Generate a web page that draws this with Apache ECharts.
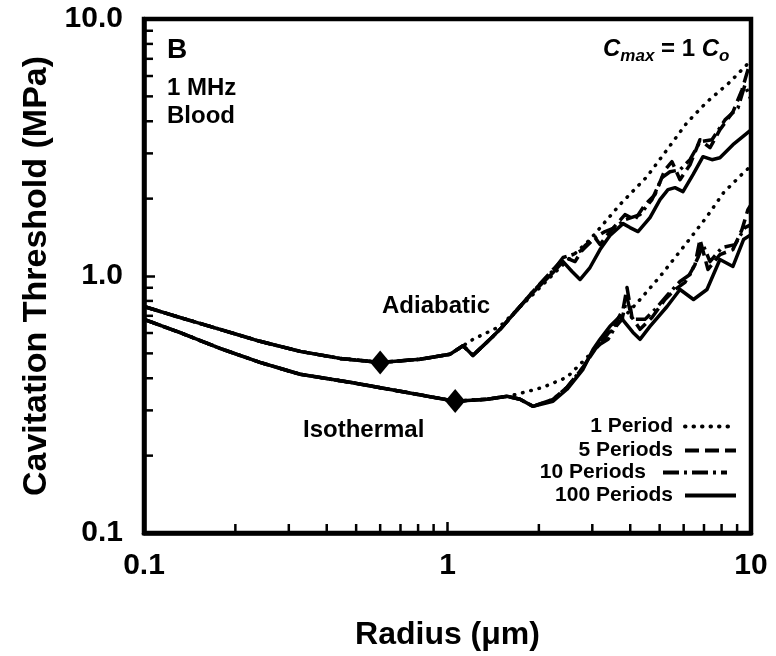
<!DOCTYPE html>
<html><head><meta charset="utf-8">
<script src="https://cdn.jsdelivr.net/npm/echarts@6/dist/echarts.min.js"></script>
<style>html,body{margin:0;padding:0;background:#fff}#c{width:776px;height:656px}</style>
</head><body><div id="c"></div>
<script>
// ---- tick labels / categories ----
const xTickLabels = ['0.1', '1', '10'];
const yTickLabels = ['0.1', '1.0', '10.0'];
const minorTickValues = [0.2,0.3,0.4,0.5,0.6,0.7,0.8,0.9,2,3,4,5,6,7,8,9];
const seriesNames = ['1 Period', '5 Periods', '10 Periods', '100 Periods'];

// ---- Adiabatic (upper) ----
const adiaBaseR = [0.1, 0.131, 0.178, 0.241, 0.327, 0.442, 0.599, 0.812, 1.019, 1.125];
const adiaBaseP = [0.761, 0.690, 0.620, 0.557, 0.509, 0.478, 0.461, 0.474, 0.496, 0.535];
const adia1R = [1.213, 1.49, 1.913, 2.348, 2.948, 3.70, 4.54, 5.29, 6.15, 7.16, 8.53, 10];
const adia1P = [0.567, 0.637, 0.848, 1.079, 1.386, 1.896, 2.434, 3.10, 3.947, 4.76, 5.69, 6.9];
const adia5R = [1.213, 1.38, 1.49, 1.734, 1.913, 2.227, 2.439, 2.631, 2.838, 3.062, 3.181, 3.43, 3.845, 4.148, 4.474, 4.827, 5.207, 5.49, 5.835, 6.295, 6.79, 7.326, 7.9, 8.72, 9.34, 9.77, 10];
const adia5P = [0.491, 0.567, 0.620, 0.761, 0.871, 1.06, 1.18, 1.138, 1.313, 1.411, 1.325, 1.489, 1.733, 1.657, 1.896, 2.073, 2.59, 2.784, 2.37, 2.71, 3.39, 3.155, 3.71, 4.35, 5.30, 6.34, 6.81];
const adia10R = [1.213, 1.38, 1.49, 1.734, 1.913, 2.227, 2.403, 2.591, 2.796, 3.062, 3.304, 3.564, 3.845, 4.308, 4.718, 5.09, 5.409, 5.835, 6.295, 6.79, 7.438, 8.21, 9.06, 9.55, 10];
const adia10P = [0.491, 0.567, 0.620, 0.761, 0.871, 1.05, 1.18, 1.212, 1.267, 1.411, 1.489, 1.543, 1.657, 1.733, 1.982, 2.413, 2.545, 2.59, 2.835, 3.33, 3.39, 4.05, 4.51, 5.54, 4.85];
const adia100R = [1.213, 1.38, 1.49, 1.734, 1.913, 2.227, 2.403, 2.572, 2.733, 2.948, 3.181, 3.43, 3.787, 3.993, 4.244, 4.647, 5.014, 5.327, 5.617, 5.969, 6.44, 6.947, 7.438, 7.9, 8.72, 9.55, 10];
const adia100P = [0.491, 0.567, 0.620, 0.761, 0.863, 1.032, 1.138, 1.041, 0.969, 1.079, 1.267, 1.437, 1.599, 1.543, 1.489, 1.687, 1.982, 2.167, 2.207, 2.129, 2.479, 2.912, 2.835, 2.886, 3.242, 3.544, 3.706];

// ---- Isothermal (lower) ----
const isoBaseR = [0.1, 0.131, 0.178, 0.241, 0.327, 0.477, 0.698, 1.06, 1.349, 1.571];
const isoBaseP = [0.678, 0.603, 0.523, 0.461, 0.4145, 0.386, 0.356, 0.3257, 0.3315, 0.3404];
const iso1R = [1.694, 2.064, 2.476, 2.948, 3.70, 4.31, 5.014, 6.15, 7.16, 8.12, 9.45, 10];
const iso1P = [0.3466, 0.369, 0.4035, 0.4956, 0.666, 0.810, 0.9955, 1.349, 1.703, 2.11, 2.523, 2.68];
const iso5R = [1.734, 1.913, 2.227, 2.476, 2.796, 3.062, 3.304, 3.564, 3.787, 3.904, 4.055, 4.308, 4.718, 5.207, 5.617, 6.06, 6.54, 6.79, 7.216, 7.9, 8.72, 9.34, 9.77, 10];
const iso5P = [0.3315, 0.311, 0.331, 0.369, 0.441, 0.518, 0.577, 0.648, 0.741, 0.902, 0.690, 0.620, 0.690, 0.810, 0.886, 0.944, 1.108, 1.386, 1.06, 1.212, 1.267, 1.516, 1.813, 1.896];
const iso10R = [1.734, 1.913, 2.227, 2.476, 2.796, 3.016, 3.181, 3.38, 3.564, 3.758, 3.904, 4.055, 4.474, 4.827, 5.327, 5.835, 6.295, 6.69, 6.947, 7.326, 8.02, 8.86, 9.55, 10];
const iso10P = [0.3315, 0.311, 0.331, 0.369, 0.441, 0.509, 0.542, 0.567, 0.631, 0.678, 0.825, 0.678, 0.678, 0.741, 0.848, 0.952, 1.013, 1.18, 1.325, 1.138, 1.29, 1.325, 1.543, 1.585];
const iso100R = [1.734, 1.913, 2.227, 2.476, 2.796, 3.016, 3.181, 3.43, 3.70, 4.085, 4.308, 4.647, 5.29, 5.835, 6.465, 7.16, 7.9, 8.72, 9.45, 10];
const iso100P = [0.3315, 0.311, 0.3257, 0.3624, 0.4334, 0.518, 0.567, 0.637, 0.696, 0.603, 0.567, 0.637, 0.761, 0.886, 0.810, 0.886, 1.159, 1.089, 1.386, 1.449];

// ---- minimum markers ----
const markerR = [0.60, 1.06];
const markerP = [0.461, 0.326];

const FONT = "'Liberation Sans', Arial, Helvetica, sans-serif";
const zip = (a, b) => a.map((v, i) => [v, b[i]]);
const styles = {
  '1 Period': { type: [0.5, 8], cap: 'round', width: 3.5 },
  '5 Periods': { type: [14, 6], width: 3.5 },
  '10 Periods': { type: [16, 5, 3, 5], width: 3.5 },
  '100 Periods': { type: 'solid', width: 3.5 }
};
function line(name, bR, bP, r, p) {
  return {
    type: 'line', name, symbol: 'none', showSymbol: false, silent: true,
    data: zip(bR, bP).concat(zip(r, p)),
    lineStyle: Object.assign({ color: '#000', join: 'round' }, styles[name]),
    itemStyle: { color: '#000' }, z: 3
  };
}
const series = [
  line('1 Period', adiaBaseR, adiaBaseP, adia1R, adia1P),
  line('1 Period', isoBaseR, isoBaseP, iso1R, iso1P),
  line('5 Periods', adiaBaseR, adiaBaseP, adia5R, adia5P),
  line('5 Periods', isoBaseR, isoBaseP, iso5R, iso5P),
  line('10 Periods', adiaBaseR, adiaBaseP, adia10R, adia10P),
  line('10 Periods', isoBaseR, isoBaseP, iso10R, iso10P),
  line('100 Periods', adiaBaseR, adiaBaseP, adia100R, adia100P),
  line('100 Periods', isoBaseR, isoBaseP, iso100R, iso100P),
  { type: 'scatter', name: 'min', symbol: 'diamond', symbolSize: [20, 24], silent: true,
    data: zip(markerR, markerP), itemStyle: { color: '#000', opacity: 1 }, z: 5 },
  { type: 'scatter', name: 'xminor', symbol: 'rect', symbolSize: [2.5, 7], symbolOffset: [0, -5.5],
    silent: true, clip: false, data: minorTickValues.map(v => [v, 0.1]), itemStyle: { color: '#000', opacity: 1 }, z: 6 },
  { type: 'scatter', name: 'yminor', symbol: 'rect', symbolSize: [7, 2.5], symbolOffset: [5.5, 0],
    silent: true, clip: false, data: minorTickValues.map(v => [0.1, v]), itemStyle: { color: '#000', opacity: 1 }, z: 6 }
];

const legendRight = [38, 38, 47, 38];
const legendCenter = [428, 452, 474, 497];
const legendIconW = [51, 51, 64, 51];
const legendPad = [7, 7, 12, 7];

const chart = echarts.init(document.getElementById('c'), null, { renderer: 'canvas' });
chart.setOption({
  animation: false,
  backgroundColor: '#fff',
  grid: { left: 144, right: 25, top: 19, bottom: 122, show: true, borderColor: '#000', borderWidth: 4.5, backgroundColor: 'transparent' },
  xAxis: {
    type: 'log', logBase: 10, min: 0.1, max: 10,
    name: 'Radius (\u03bcm)', nameLocation: 'middle', nameGap: 86,
    nameTextStyle: { fontFamily: FONT, fontWeight: 'bold', fontSize: 32, color: '#000' },
    axisLine: { lineStyle: { color: '#000', width: 4.5 } },
    axisTick: { inside: true, length: 11, lineStyle: { color: '#000', width: 2.5 } },
    axisLabel: { margin: 18, fontFamily: FONT, fontWeight: 'bold', fontSize: 30, color: '#000',
      formatter: v => xTickLabels[Math.round(Math.log10(v)) + 1] },
    splitLine: { show: false }
  },
  yAxis: {
    type: 'log', logBase: 10, min: 0.1, max: 10,
    name: 'Cavitation Threshold (MPa)', nameLocation: 'middle', nameGap: 82,
    nameTextStyle: { fontFamily: FONT, fontWeight: 'bold', fontSize: 34, color: '#000' },
    axisLine: { lineStyle: { color: '#000', width: 4.5 } },
    axisTick: { inside: true, length: 11, lineStyle: { color: '#000', width: 2.5 } },
    axisLabel: { margin: 21, fontFamily: FONT, fontWeight: 'bold', fontSize: 30, color: '#000',
      formatter: v => yTickLabels[Math.round(Math.log10(v)) + 1] },
    splitLine: { show: false }
  },
  legend: seriesNames.map((n, i) => ({
    data: [n], orient: 'horizontal', align: 'right', selectedMode: false,
    right: legendRight[i], top: legendCenter[i] - 12,
    itemWidth: legendIconW[i], itemHeight: 14, padding: 0,
    itemStyle: { opacity: 0 },
    lineStyle: { width: 4 },
    textStyle: { fontFamily: FONT, fontWeight: 'bold', fontSize: 21, color: '#000', padding: [0, legendPad[i], 0, 0] }
  })),
  graphic: [
    { type: 'text', left: 167, top: 36, style: { text: 'B', font: 'bold 28px ' + FONT, fill: '#000' } },
    { type: 'text', left: 167, top: 76, style: { text: '1 MHz', font: 'bold 24px ' + FONT, fill: '#000' } },
    { type: 'text', left: 167, top: 104, style: { text: 'Blood', font: 'bold 24px ' + FONT, fill: '#000' } },
    { type: 'text', left: 382, top: 294, style: { text: 'Adiabatic', font: 'bold 24px ' + FONT, fill: '#000' } },
    { type: 'text', left: 303, top: 418, style: { text: 'Isothermal', font: 'bold 24px ' + FONT, fill: '#000' } },
    { type: 'text', left: 603, top: 34, style: {
      text: '{c|C}{s|max}{n| = 1 }{c|C}{s|o}',
      rich: {
        c: { fontFamily: FONT, fontWeight: 'bold', fontStyle: 'italic', fontSize: 24, fill: '#000', lineHeight: 30 },
        s: { fontFamily: FONT, fontWeight: 'bold', fontStyle: 'italic', fontSize: 17, fill: '#000', padding: [14, 0, 0, 0], lineHeight: 30 },
        n: { fontFamily: FONT, fontWeight: 'bold', fontSize: 24, fill: '#000', lineHeight: 30 }
      } } }
  ],
  series
});
</script>
</body></html>
